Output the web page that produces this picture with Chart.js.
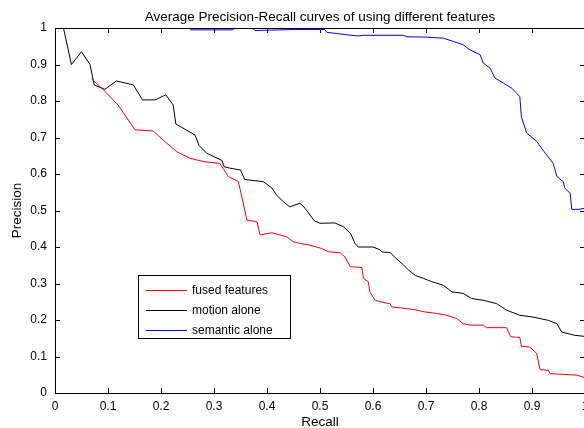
<!DOCTYPE html>
<html>
<head>
<meta charset="utf-8">
<script src="https://cdn.jsdelivr.net/npm/chart.js@4/dist/chart.umd.min.js"></script>
<style>
  html, body { margin: 0; padding: 0; background: #fff; overflow: hidden; }
  #wrap { width: 584px; height: 428px; overflow: hidden; }
</style>
</head>
<body>
<div id="wrap"><canvas id="pr" width="600" height="428"></canvas></div>
<script>
// recall / precision values
var fusedRecall = [0.069, 0.091, 0.119, 0.151, 0.185, 0.204, 0.230, 0.255, 0.280, 0.311, 0.327, 0.346, 0.358, 0.362, 0.381, 0.387, 0.409, 0.425, 0.437, 0.450, 0.462, 0.481, 0.503, 0.516, 0.538, 0.547, 0.557, 0.579, 0.582, 0.591, 0.594, 0.604, 0.623, 0.632, 0.635, 0.664, 0.676, 0.698, 0.720, 0.739, 0.758, 0.770, 0.783, 0.808, 0.814, 0.852, 0.860, 0.877, 0.880, 0.896, 0.909, 0.915, 0.931, 0.934, 0.959, 0.984, 1.0];
var fusedPrecision = [0.861, 0.831, 0.789, 0.721, 0.718, 0.693, 0.661, 0.643, 0.634, 0.629, 0.593, 0.579, 0.501, 0.474, 0.469, 0.433, 0.439, 0.433, 0.428, 0.414, 0.410, 0.405, 0.396, 0.387, 0.384, 0.373, 0.346, 0.344, 0.314, 0.305, 0.277, 0.254, 0.247, 0.245, 0.236, 0.231, 0.229, 0.222, 0.218, 0.213, 0.204, 0.190, 0.186, 0.186, 0.179, 0.179, 0.154, 0.152, 0.128, 0.126, 0.108, 0.064, 0.062, 0.053, 0.051, 0.049, 0.042];

var motionRecall = [0.016, 0.031, 0.050, 0.066, 0.074, 0.094, 0.116, 0.148, 0.165, 0.189, 0.209, 0.223, 0.228, 0.264, 0.272, 0.286, 0.315, 0.319, 0.330, 0.350, 0.358, 0.393, 0.409, 0.418, 0.431, 0.443, 0.462, 0.472, 0.489, 0.500, 0.528, 0.545, 0.558, 0.566, 0.572, 0.600, 0.612, 0.618, 0.632, 0.645, 0.658, 0.667, 0.680, 0.695, 0.711, 0.733, 0.749, 0.770, 0.786, 0.808, 0.833, 0.852, 0.877, 0.902, 0.931, 0.947, 0.956, 0.981, 1.0];
var motionPrecision = [1.0, 0.900, 0.935, 0.900, 0.844, 0.832, 0.855, 0.844, 0.803, 0.803, 0.817, 0.789, 0.737, 0.707, 0.678, 0.657, 0.637, 0.620, 0.616, 0.611, 0.585, 0.579, 0.562, 0.542, 0.524, 0.510, 0.520, 0.506, 0.472, 0.465, 0.466, 0.455, 0.436, 0.410, 0.400, 0.400, 0.393, 0.386, 0.385, 0.367, 0.350, 0.337, 0.322, 0.314, 0.305, 0.295, 0.277, 0.273, 0.259, 0.254, 0.245, 0.227, 0.213, 0.208, 0.199, 0.190, 0.167, 0.158, 0.155];

var semanticRecall = [0.255, 0.335, 0.340, 0.374, 0.377, 0.453, 0.509, 0.513, 0.531, 0.547, 0.572, 0.582, 0.657, 0.664, 0.700, 0.733, 0.752, 0.770, 0.783, 0.802, 0.808, 0.821, 0.830, 0.846, 0.862, 0.877, 0.880, 0.890, 0.909, 0.925, 0.940, 0.947, 0.959, 0.962, 0.972, 0.975, 0.987, 1.0];
var semanticPrecision = [0.995, 0.995, 1.0, 1.0, 0.993, 0.996, 0.996, 0.988, 0.985, 0.982, 0.978, 0.980, 0.980, 0.976, 0.975, 0.972, 0.963, 0.954, 0.940, 0.927, 0.904, 0.890, 0.863, 0.849, 0.835, 0.812, 0.757, 0.712, 0.689, 0.657, 0.629, 0.593, 0.579, 0.561, 0.547, 0.503, 0.503, 0.506];

var seriesLabels = ['fused features', 'motion alone', 'semantic alone'];
var seriesColors = ['#ff0000', '#000000', '#0000ff'];
var tickValues = [0, 0.1, 0.2, 0.3, 0.4, 0.5, 0.6, 0.7, 0.8, 0.9, 1];

var FONT = 'Liberation Sans, Arial, Helvetica, sans-serif';

function points(xs, ys) {
  return xs.map(function (x, i) { return { x: x, y: ys[i] }; });
}

function fmt(v) {
  return String(Math.round(v * 10) / 10);
}

// box around plot, inward tick marks, legend
var frame = {
  id: 'frame',
  afterDatasetsDraw: function (chart) {
    var ctx = chart.ctx;
    var a = chart.chartArea;
    var xs = chart.scales.x, ys = chart.scales.y;
    var len = 5;
    ctx.save();
    ctx.strokeStyle = '#000';
    ctx.lineWidth = 1;
    ctx.beginPath();
    ctx.rect(Math.round(a.left) + 0.5, Math.round(a.top) + 0.5, Math.round(a.right - a.left), Math.round(a.bottom - a.top));
    ctx.stroke();
    ctx.beginPath();
    tickValues.forEach(function (v) {
      var px = Math.round(xs.getPixelForValue(v)) + 0.5;
      ctx.moveTo(px, a.bottom); ctx.lineTo(px, a.bottom - len);
      ctx.moveTo(px, a.top); ctx.lineTo(px, a.top + len);
      var py = Math.round(ys.getPixelForValue(v)) + 0.5;
      ctx.moveTo(a.left, py); ctx.lineTo(a.left + len, py);
      ctx.moveTo(a.right, py); ctx.lineTo(a.right - len, py);
    });
    ctx.stroke();

    // legend
    var lx = 138.5, ly = 275.5, lw = 152, lh = 63;
    ctx.fillStyle = '#fff';
    ctx.fillRect(lx, ly, lw, lh);
    ctx.strokeRect(lx, ly, lw, lh);
    ctx.font = '12px ' + FONT;
    ctx.textBaseline = 'middle';
    chart.data.datasets.forEach(function (ds, i) {
      var y = 290.5 + i * 20;
      ctx.strokeStyle = ds.borderColor;
      ctx.beginPath();
      ctx.moveTo(146, y); ctx.lineTo(187, y);
      ctx.stroke();
      ctx.fillStyle = '#000';
      ctx.fillText(ds.label, 192, y + 0.5);
    });
    ctx.restore();
  }
};

var datasets = [
  points(fusedRecall, fusedPrecision),
  points(motionRecall, motionPrecision),
  points(semanticRecall, semanticPrecision)
].map(function (d, i) {
  return {
    label: seriesLabels[i],
    data: d,
    borderColor: seriesColors[i],
    backgroundColor: seriesColors[i],
    borderWidth: 1,
    pointRadius: 0,
    tension: 0,
    fill: false
  };
});

new Chart(document.getElementById('pr').getContext('2d'), {
  type: 'line',
  data: { datasets: datasets },
  options: {
    responsive: false,
    animation: false,
    events: [],
    layout: { padding: { top: 0, right: 15, left: 0, bottom: 0 } },
    plugins: {
      legend: { display: false },
      tooltip: { enabled: false },
      title: {
        display: true,
        text: 'Average Precision-Recall curves of using different features',
        color: '#000',
        fullSize: false,
        font: { family: FONT, size: 13.5, weight: 'normal' },
        padding: { top: 9, bottom: 2.8 }
      }
    },
    scales: {
      x: {
        type: 'linear',
        min: 0,
        max: 1,
        afterFit: function (s) { s.height = 35; },
        afterBuildTicks: function (s) { s.ticks = tickValues.map(function (v) { return { value: v }; }); },
        grid: { display: false, drawTicks: false },
        border: { display: false },
        ticks: {
          color: '#000',
          padding: 6,
          maxRotation: 0,
          autoSkip: false,
          font: { family: FONT, size: 12 },
          callback: fmt
        },
        title: {
          display: true,
          text: 'Recall',
          color: '#000',
          font: { family: FONT, size: 13.5 },
          padding: { top: 0, bottom: -2 }
        }
      },
      y: {
        type: 'linear',
        min: 0,
        max: 1,
        afterFit: function (s) { s.width = 55; },
        afterBuildTicks: function (s) { s.ticks = tickValues.map(function (v) { return { value: v }; }); },
        grid: { display: false, drawTicks: false },
        border: { display: false },
        ticks: {
          color: '#000',
          padding: 8,
          autoSkip: false,
          font: { family: FONT, size: 12 },
          callback: fmt
        },
        title: {
          display: true,
          text: 'Precision',
          color: '#000',
          font: { family: FONT, size: 13.5 },
          padding: { top: 9, bottom: 0 }
        }
      }
    }
  },
  plugins: [frame]
});
</script>
</body>
</html>
